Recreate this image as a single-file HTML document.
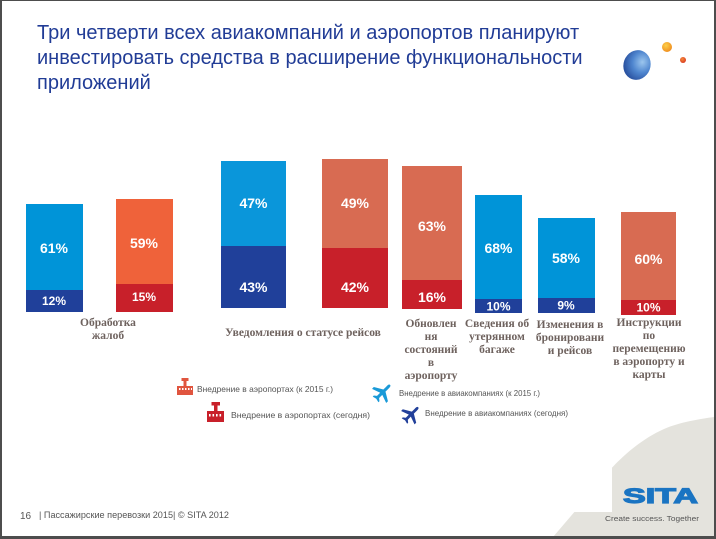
<!DOCTYPE html>
<html><head><meta charset="utf-8"><style>
html,body{margin:0;padding:0;background:#fff;}
svg{display:block;}
</style></head><body>
<svg width="716" height="539" viewBox="0 0 716 539" xmlns="http://www.w3.org/2000/svg">
<defs>
<radialGradient id="sph" cx="0.65" cy="0.35" r="0.8">
<stop offset="0" stop-color="#9cc6ee"/><stop offset="0.45" stop-color="#4f86cf"/><stop offset="1" stop-color="#1d3f8f"/>
</radialGradient>
<radialGradient id="org" cx="0.4" cy="0.35" r="0.7">
<stop offset="0" stop-color="#fcd04a"/><stop offset="1" stop-color="#ef8a1c"/>
</radialGradient>
<radialGradient id="rd" cx="0.4" cy="0.35" r="0.7">
<stop offset="0" stop-color="#f58a3a"/><stop offset="1" stop-color="#d8361f"/>
</radialGradient>
</defs>
<rect x="0" y="0" width="716" height="539" fill="#fff"/>

<!-- gray panel -->
<path d="M553,537 L600,482 C612,466 635,442 664,429 C680,422 700,419 714,417 L714,537 Z" fill="#e4e3dd"/>
<rect x="0" y="440" width="612" height="72" fill="#fff"/>

<!-- title -->
<g font-family="Liberation Sans, Arial, sans-serif" font-size="20" fill="#213c96">
<text x="37" y="39">Три четверти всех авиакомпаний и аэропортов планируют</text>
<text x="37" y="64">инвестировать средства в расширение функциональности</text>
<text x="37" y="89">приложений</text>
</g>

<!-- sphere logo -->
<ellipse cx="637" cy="65" rx="13.5" ry="15" transform="rotate(20 637 65)" fill="url(#sph)"/>
<circle cx="667" cy="47" r="5" fill="url(#org)"/>
<circle cx="683" cy="60" r="3" fill="url(#rd)"/>

<!-- bars -->
<rect x="26" y="204" width="57" height="86" fill="#0094d8"/>
<rect x="26" y="290" width="57" height="22" fill="#20409a"/>
<rect x="116" y="199" width="57" height="85" fill="#ef623a"/>
<rect x="116" y="284" width="57" height="28" fill="#c8202a"/>
<rect x="221" y="161" width="65" height="85" fill="#0a96da"/>
<rect x="221" y="246" width="65" height="62" fill="#20409a"/>
<rect x="322" y="159" width="66" height="89" fill="#d86b52"/>
<rect x="322" y="248" width="66" height="60" fill="#c8202a"/>
<rect x="402" y="166" width="60" height="114" fill="#d86b52"/>
<rect x="402" y="280" width="60" height="29" fill="#c8202a"/>
<rect x="475" y="195" width="47" height="104" fill="#0094d8"/>
<rect x="475" y="299" width="47" height="14" fill="#20409a"/>
<rect x="538" y="218" width="57" height="80" fill="#0094d8"/>
<rect x="538" y="298" width="57" height="15" fill="#20409a"/>
<rect x="621" y="212" width="55" height="88" fill="#d86b52"/>
<rect x="621" y="300" width="55" height="15" fill="#c8202a"/>

<!-- data labels -->
<g font-family="Liberation Sans, Arial, sans-serif" font-size="14" font-weight="bold" fill="#fff" text-anchor="middle">
<text x="54" y="253">61%</text>
<text x="144" y="248">59%</text>
<text x="253.5" y="208">47%</text><text x="253.5" y="292">43%</text>
<text x="355" y="208">49%</text><text x="355" y="292">42%</text>
<text x="432" y="231">63%</text><text x="432" y="302">16%</text>
<text x="498.5" y="253">68%</text>
<text x="566" y="263">58%</text>
<text x="648.5" y="264">60%</text>
</g>
<g font-family="Liberation Sans, Arial, sans-serif" font-size="12" font-weight="bold" fill="#fff" text-anchor="middle">
<text x="54" y="305">12%</text>
<text x="144" y="301">15%</text>
<text x="498.5" y="310.5">10%</text>
<text x="566" y="309.5">9%</text>
<text x="648.5" y="311.5">10%</text>
</g>

<!-- category labels -->
<g font-family="Liberation Serif, Times New Roman, serif" font-size="11.5" font-weight="bold" fill="#6e625e" text-anchor="middle">
<text x="108" y="326">Обработка</text><text x="108" y="339">жалоб</text>
<text x="303" y="336">Уведомления о статусе рейсов</text>
<text x="431" y="327">Обновлен</text><text x="431" y="340">ня</text><text x="431" y="353">состояний</text><text x="431" y="366">в</text><text x="431" y="379">аэропорту</text>
<text x="497" y="327">Сведения об</text><text x="497" y="340">утерянном</text><text x="497" y="353">багаже</text>
<text x="570" y="328">Изменения в</text><text x="570" y="341">бронировани</text><text x="570" y="354">и рейсов</text>
<text x="649" y="326">Инструкции</text><text x="649" y="339">по</text><text x="649" y="352">перемещению</text><text x="649" y="365">в аэропорту и</text><text x="649" y="378">карты</text>
</g>

<!-- legend icons -->
<g fill="#e0553f">
<rect x="177" y="386" width="16" height="9"/>
<rect x="183.5" y="379" width="3" height="8"/>
<rect x="181.5" y="378" width="7" height="3"/>
</g>
<g fill="#fff"><rect x="179" y="388" width="1.5" height="2"/><rect x="182" y="388" width="1.5" height="2"/><rect x="185" y="388" width="1.5" height="2"/><rect x="188" y="388" width="1.5" height="2"/><rect x="191" y="388" width="1" height="2"/></g>
<g fill="#c8202a">
<rect x="207" y="411" width="17" height="11"/>
<rect x="214" y="403" width="3.5" height="9"/>
<rect x="211.5" y="402" width="8.5" height="3.5"/>
</g>
<g fill="#fff"><rect x="209" y="414" width="1.6" height="2.5"/><rect x="212.5" y="414" width="1.6" height="2.5"/><rect x="216" y="414" width="1.6" height="2.5"/><rect x="219.5" y="414" width="1.6" height="2.5"/></g>

<path transform="translate(383 392) rotate(45) scale(1)" fill="#1a9ad8" d="M0,-10 C1.5,-10 1.5,-8 1.5,-6 L1.5,-2 L10,3 L10,5.5 L1.5,2.5 L1.5,7 L4,9 L4,10.5 L0,9.5 L-4,10.5 L-4,9 L-1.5,7 L-1.5,2.5 L-10,5.5 L-10,3 L-1.5,-2 L-1.5,-6 C-1.5,-8 -1.5,-10 0,-10 Z"/>
<path transform="translate(411.5 414) rotate(45) scale(0.95)" fill="#22409a" d="M0,-10 C1.5,-10 1.5,-8 1.5,-6 L1.5,-2 L10,3 L10,5.5 L1.5,2.5 L1.5,7 L4,9 L4,10.5 L0,9.5 L-4,10.5 L-4,9 L-1.5,7 L-1.5,2.5 L-10,5.5 L-10,3 L-1.5,-2 L-1.5,-6 C-1.5,-8 -1.5,-10 0,-10 Z"/>

<!-- legend text -->
<g font-family="Liberation Sans, Arial, sans-serif" font-size="8.5" fill="#555">
<text x="197" y="392" textLength="136" lengthAdjust="spacingAndGlyphs">Внедрение в аэропортах (к 2015 г.)</text>
<text x="399" y="396" textLength="141" lengthAdjust="spacingAndGlyphs">Внедрение в авиакомпаниях (к 2015 г.)</text>
<text x="231" y="418" textLength="139" lengthAdjust="spacingAndGlyphs">Внедрение в аэропортах (сегодня)</text>
<text x="425" y="416" textLength="143" lengthAdjust="spacingAndGlyphs">Внедрение в авиакомпаниях (сегодня)</text>
</g>

<!-- footer -->
<g font-family="Liberation Sans, Arial, sans-serif" fill="#555">
<text x="20" y="519" font-size="10">16</text>
<text x="39" y="518" font-size="9" textLength="190" lengthAdjust="spacingAndGlyphs">| Пассажирские перевозки 2015|  © SITA 2012</text>
</g>

<!-- SITA logo -->
<text x="623" y="503" font-family="Liberation Sans, Arial, sans-serif" font-weight="bold" font-size="21" fill="#1a74c2" stroke="#1a74c2" stroke-width="1.2" textLength="75" lengthAdjust="spacingAndGlyphs">SITA</text>
<text x="605" y="521" font-family="Liberation Sans, Arial, sans-serif" font-size="7" fill="#555" textLength="94" lengthAdjust="spacingAndGlyphs">Create success. Together</text>

<!-- frame -->
<rect x="0" y="0" width="716" height="1" fill="#4d4d4d"/>
<rect x="0" y="0" width="2" height="539" fill="#4d4d4d"/>
<rect x="714" y="0" width="2" height="539" fill="#4d4d4d"/>
<rect x="0" y="536" width="716" height="3" fill="#4d4d4d"/>
</svg>
</body></html>
